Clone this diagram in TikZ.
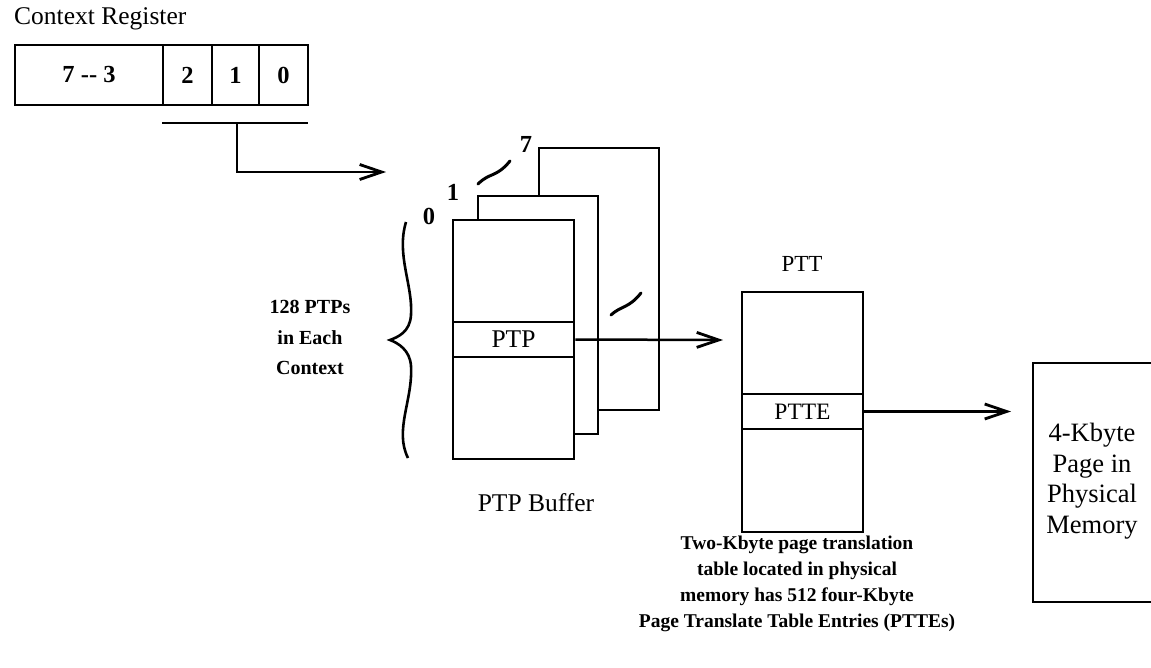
\documentclass[tikz,border=0pt]{standalone}
\usepackage{fontspec}
\setmainfont{Liberation Serif}
\usetikzlibrary{arrows.meta}
\begin{document}
\begin{tikzpicture}[x=1pt,y=-1pt,
  box/.style={draw,line width=2.7pt,fill=white,inner sep=0pt},
  conn/.style={line width=2.5pt},
  arr/.style={line width=2.5pt,-{Straight Barb[length=22pt,width=15pt,line width=2.8pt]}},
  lbl/.style={inner sep=0pt,align=center,font=\fontsize{25.5}{30}\selectfont},
  bitlbl/.style={inner sep=0pt,font=\bfseries\fontsize{24.5}{28}\selectfont},
  small/.style={inner sep=0pt,align=center,font=\bfseries\fontsize{19.5}{26}\selectfont},
  stroke/.style={line width=3pt,line cap=round}
]
\useasboundingbox (0,0) rectangle (1151,667);

% Context register
\node[lbl,anchor=base west] (ctxlbl) at (14,24) {Context Register};
\node[box,minimum width=148pt,minimum height=60pt,bitlbl] (c73) at (89,75) {7 -{}- 3};
\node[box,minimum width=49pt,minimum height=60pt,bitlbl] (c2) at (187.5,75) {2};
\node[box,minimum width=47pt,minimum height=60pt,bitlbl] (c1) at (235.5,75) {1};
\node[box,minimum width=49pt,minimum height=60pt,bitlbl] (c0) at (283.5,75) {0};

\coordinate (bl) at (162,123);
\coordinate (br) at (308,123);
\coordinate (bm) at (237,123);
\coordinate (tipA) at (386,172);
\draw[conn] (bl) -- (br);
\draw[arr] (bm) |- (tipA);

% PTP buffer stack
\node[box,minimum width=120pt,minimum height=262pt] (back) at (599,279) {};
\node[box,minimum width=120pt,minimum height=238pt] (mid) at (538,315) {};
\node[box,minimum width=121pt,minimum height=239pt] (front) at (513.5,339.5) {};
\node[box,minimum width=121pt,minimum height=35pt,lbl] (ptp) at (513.5,339.5) {PTP};

\node[bitlbl] (n0) at (429,216) {0};
\node[bitlbl] (n1) at (453,192) {1};
\node[bitlbl] (n7) at (526,144) {7};
\draw[stroke] (478,184) .. controls (490,172) and (496,178) .. (510,161);
\draw[stroke] (611,315) .. controls (622,305) and (628,309) .. (641,293);

\node[lbl] (buflbl) at (536,503) {PTP Buffer};

% brace
\draw[line width=2.6pt] (406,222) .. controls (396,255) and (413,285) .. (411,315)
  .. controls (410,332) and (398,337) .. (390,340)
  .. controls (398,343) and (410,350) .. (411,366)
  .. controls (413,400) and (394,430) .. (408,458);
\node[small,font=\bfseries\fontsize{20}{30.5}\selectfont] (ctxtxt) at (310,337.5) {128 PTPs\\in Each\\Context};

% PTT
\node[lbl,font=\fontsize{23}{26}\selectfont] (pttlbl) at (802,264) {PTT};
\node[box,minimum width=121pt,minimum height=240pt] (ptt) at (802.5,412) {};
\node[box,minimum width=121pt,minimum height=35pt,lbl,font=\fontsize{23.5}{26}\selectfont] (ptte) at (802.5,411.5) {PTTE};
\coordinate (tipB) at (723,340);
\draw[arr] (ptp.east) -- (tipB);

\node[small] (ptttxt) at (797,584) {Two-Kbyte page translation\\table located in physical\\memory has 512 four-Kbyte\\Page Translate Table Entries (PTTEs)};

% physical memory page
\draw[line width=2.7pt] (1153,363) -- (1033,363) -- (1033,602) -- (1153,602);
\node[lbl,font=\fontsize{26.5}{30.6}\selectfont] (mem) at (1092,481) {4-Kbyte\\Page in\\Physical\\Memory};
\coordinate (tipC) at (1011,411.5);
\draw[arr] (ptte.east) -- (tipC);
\end{tikzpicture}
\end{document}
